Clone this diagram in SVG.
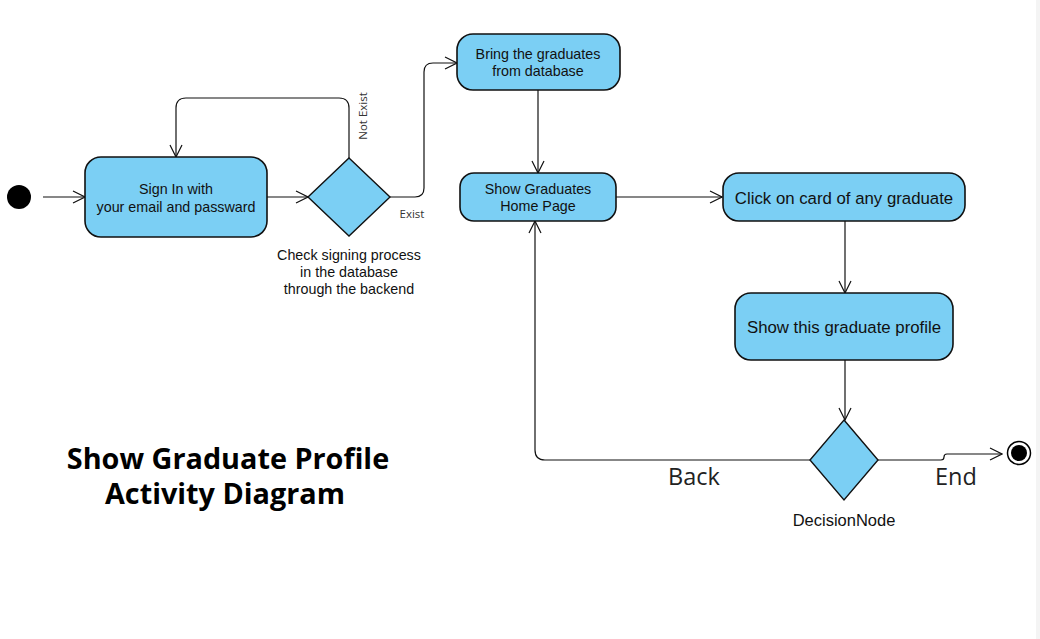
<svg xmlns="http://www.w3.org/2000/svg" width="1040" height="639" viewBox="0 0 1040 639">
<style>
.act{fill:#7BCFF4;stroke:#111;stroke-width:1.6}
.dec{fill:#7BCFF4;stroke:#111;stroke-width:1.4}
.t{font-family:"Liberation Sans",Arial,sans-serif;font-size:14.3px;fill:#111;text-anchor:middle}
.tb{font-family:"Liberation Sans",Arial,sans-serif;font-size:16.8px;fill:#111;text-anchor:middle}
.lbl{font-family:"Open Sans",sans-serif;font-size:11.5px;fill:#333}
.big{font-family:"Open Sans",sans-serif;font-size:23.5px;fill:#222;text-anchor:middle}
.title{font-family:"Open Sans",sans-serif;font-size:28.8px;font-weight:bold;fill:#000;text-anchor:middle}
.c{fill:none;stroke:#111;stroke-width:1.2}
</style>
<defs>
<marker id="arr" viewBox="0 0 14 14" refX="13" refY="7" markerWidth="14" markerHeight="14" markerUnits="userSpaceOnUse" orient="auto">
<path d="M1,1 L13,7 L1,13" fill="none" stroke="#111" stroke-width="1.2"/>
</marker>
</defs>
<rect width="1040" height="639" fill="#fff"/>
<rect x="1036" y="0" width="4" height="639" fill="#f4f4f4"/>

<g id="connectors">
<path class="c" d="M43,197 H85" marker-end="url(#arr)"/>
<path class="c" d="M267,197 H308" marker-end="url(#arr)"/>
<path class="c" d="M349,158 V108 Q349,98 339,98 H186 Q176,98 176,108 V157" marker-end="url(#arr)"/>
<path class="c" d="M390,197 H415 Q424,197 424,188 V72 Q424,63 433,63 H457" marker-end="url(#arr)"/>
<path class="c" d="M538,90 V173" marker-end="url(#arr)"/>
<path class="c" d="M616,197 H722" marker-end="url(#arr)"/>
<path class="c" d="M845,221 V293" marker-end="url(#arr)"/>
<path class="c" d="M845,360 V420" marker-end="url(#arr)"/>
<path class="c" d="M810,460 H545 Q535,460 535,450 V221" marker-end="url(#arr)"/>
<path class="c" d="M878,460 H941 Q944,460 944,457 Q944,454 947,454 H1002" marker-end="url(#arr)"/>
</g>

<g id="start"><circle cx="19" cy="197" r="12" fill="#000"/></g>

<g id="signin">
<rect class="act" x="85" y="157" width="182" height="80" rx="16"/>
<text class="t" x="176" y="194">Sign In with</text>
<text class="t" x="176" y="212">your email and passward</text>
</g>

<g id="check">
<polygon class="dec" points="349,158 390,197 349,236 308,197"/>
<text class="t" x="349" y="260">Check signing process</text>
<text class="t" x="349" y="277">in the database</text>
<text class="t" x="349" y="294">through the backend</text>
</g>

<g id="labels">
<text class="lbl" transform="translate(367,116) rotate(-90)" text-anchor="middle">Not Exist</text>
<text class="lbl" x="412" y="218" text-anchor="middle">Exist</text>
<text class="big" x="694" y="485">Back</text>
<text class="big" x="956" y="485">End</text>
</g>

<g id="bring">
<rect class="act" x="457" y="34" width="163" height="56" rx="16"/>
<text class="t" x="538" y="59">Bring the graduates</text>
<text class="t" x="538" y="76">from database</text>
</g>

<g id="home">
<rect class="act" x="460" y="173" width="156" height="48" rx="14"/>
<text class="t" x="538" y="194">Show Graduates</text>
<text class="t" x="538" y="211">Home Page</text>
</g>

<g id="click">
<rect class="act" x="723" y="173" width="242" height="48" rx="16"/>
<text class="tb" x="844" y="204">Click on card of any graduate</text>
</g>

<g id="profile">
<rect class="act" x="735" y="293" width="218" height="67" rx="16"/>
<text class="tb" x="844" y="333">Show this graduate profile</text>
</g>

<g id="decision">
<polygon class="dec" points="844,420 878,460 844,500 810,460"/>
<text class="t" x="844" y="526" style="font-size:16.5px">DecisionNode</text>
</g>

<g id="end">
<circle cx="1019" cy="453" r="11.5" fill="#fff" stroke="#000" stroke-width="1.5"/>
<circle cx="1019" cy="453" r="8" fill="#000"/>
</g>

<g id="title">
<text class="title" x="228" y="469">Show Graduate Profile</text>
<text class="title" x="225" y="504">Activity Diagram</text>
</g>
</svg>
